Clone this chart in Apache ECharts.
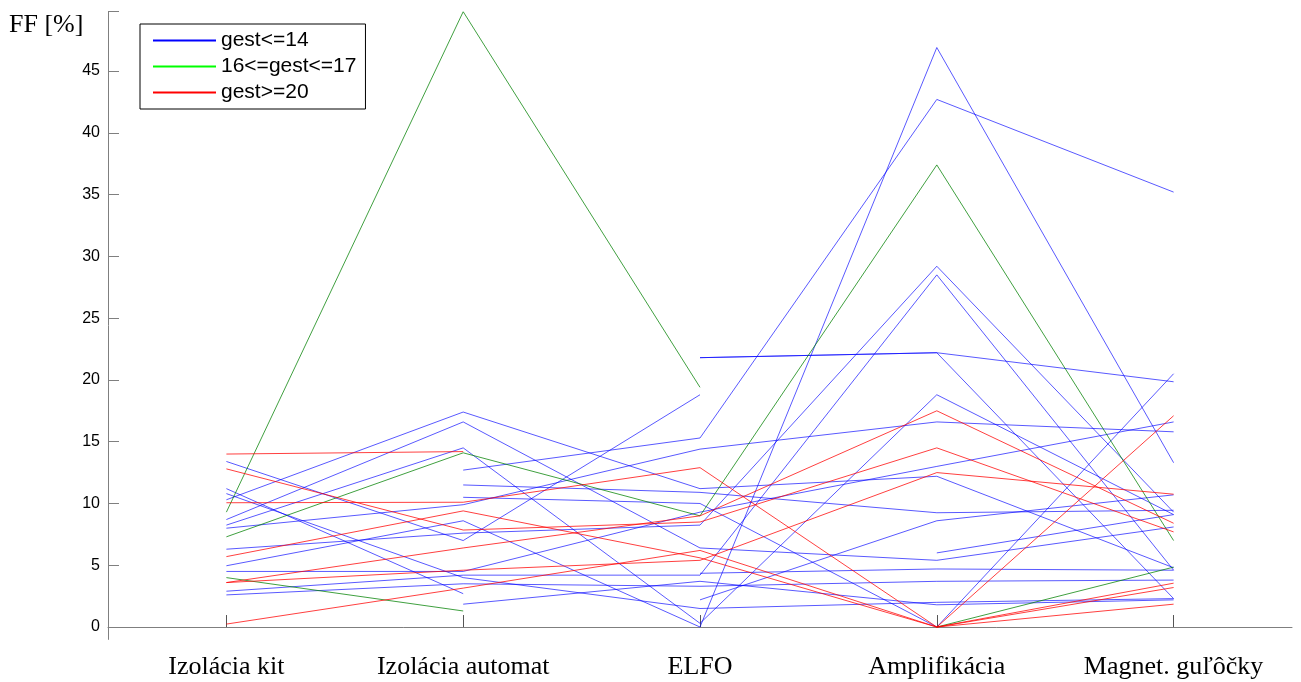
<!DOCTYPE html>
<html><head><meta charset="utf-8">
<script src="https://cdn.jsdelivr.net/npm/echarts@6/dist/echarts.min.js"></script>
<style>html,body{margin:0;padding:0;background:#fff}#c{width:1301px;height:682px}</style>
</head><body><div id="c"></div>
<script>
const categories = ['Izolácia kit', 'Izolácia automat', 'ELFO', 'Amplifikácia', 'Magnet. guľôčky'];
const yTicks = [0, 5, 10, 15, 20, 25, 30, 35, 40, 45];
const groupNames = ['gest<=14', '16<=gest<=17', 'gest>=20'];

// gest<=14
const blueLines = [
  [10.3, 17.4, 11.2, 12.2, 4.8],
  [8.7, 16.6, 6.4, 5.4, 8.1],
  [8.25, 14.5, 0.3, 18.8, 9.1],
  [null, 12.7, 15.3, 42.7, 35.2],
  [null, 11.5, 10.9, 9.25, 9.45],
  [8.0, 9.9, 14.4, 16.6, 15.8],
  [4.96, 8.6, 0, 46.9, 13.3],
  [13.4, 7.0, 18.8, null, null],
  [11.2, 2.7, null, null, null],
  [10.8, 4.0, 1.5, 2.0, 2.3],
  [2.9, 4.2, 4.2, 28.5, 4.6],
  [4.5, 4.5, 9.3, 13.0, 16.6],
  [2.6, 3.5, 3.3, 3.7, 3.8],
  [null, 1.85, 3.7, 1.8, 2.2],
  [null, null, 21.8, 22.2, 19.85],
  [null, null, 21.8, 22.2, 2.3],
  [6.3, 7.6, 8.25, 29.2, 9.3],
  [null, null, 2.2, 8.6, 10.7],
  [null, null, null, 6.0, 9.1],
  [null, 10.5, 10.0, 0, 20.5],
  [null, null, 4.35, 4.7, 4.6]
];
// 16<=gest<=17
const greenLines = [
  [9.3, 49.8, 19.4, null, null],
  [7.3, 14.1, 9.0, 37.4, 7.0],
  [4.0, 1.3, null, 0, 4.85]
];
// gest>=20
const redLines = [
  [14.0, 14.2, null, null, null],
  [10.06, 10.1, 12.9, 0, 17.1],
  [12.8, 7.85, 8.5, 14.5, 7.7],
  [5.7, 9.4, 5.6, 0, 3.2],
  [3.6, 6.4, 9.0, 17.5, 8.4],
  [0.24, 3.15, 6.2, 0, 1.85],
  [3.6, 4.6, 5.4, 12.5, 10.75],
  [null, null, null, 0, 3.55]
];

const groups = [
  {name: groupNames[0], lines: blueLines, color: 'rgba(0,0,255,0.65)', legend: '#0000ff'},
  {name: groupNames[1], lines: greenLines, color: 'rgba(0,128,0,0.75)', legend: '#00ff00'},
  {name: groupNames[2], lines: redLines, color: 'rgba(255,0,0,0.75)', legend: '#ff0000'}
];

const series = [];
groups.forEach(g => {
  g.lines.forEach(vals => {
    series.push({
      name: g.name, type: 'line', data: vals, showSymbol: false, symbol: 'none',
      connectNulls: false, silent: true,
      lineStyle: {width: 1, color: g.color}, itemStyle: {color: g.legend}
    });
  });
});

const chart = echarts.init(document.getElementById('c'), null, {renderer: 'canvas'});
chart.setOption({
  animation: false,
  backgroundColor: '#fff',
  grid: {left: 108, right: 9, top: 11.7, bottom: 42.6, containLabel: false},
  legend: {
    orient: 'vertical', left: 140, top: 24,
    data: groups.map(g => ({name: g.name, itemStyle: {color: g.legend}, lineStyle: {color: g.legend, width: 2}})),
    icon: 'rect', itemWidth: 63, itemHeight: 2, itemGap: 5,
    padding: [6, 9, 6, 13],
    borderColor: '#000', borderWidth: 1, backgroundColor: '#fff',
    textStyle: {fontFamily: 'Liberation Sans, Arial, sans-serif', fontSize: 21, color: '#000'}
  },
  xAxis: {
    type: 'category', data: categories, boundaryGap: true,
    axisLine: {lineStyle: {color: '#7f7f7f', width: 1}},
    axisTick: {show: true, inside: true, length: 12, alignWithLabel: true, lineStyle: {color: '#555'}},
    axisLabel: {fontFamily: 'Liberation Serif, Times New Roman, serif', fontSize: 26, color: '#000', margin: 15},
    splitLine: {show: false}
  },
  yAxis: {
    type: 'value', min: -1, max: 49.8,
    axisLine: {show: true, lineStyle: {color: '#7f7f7f', width: 1}},
    axisTick: {show: true, inside: true, length: 11, customValues: yTicks.concat([49.8]), lineStyle: {color: '#7f7f7f'}},
    axisLabel: {customValues: yTicks, fontFamily: 'Liberation Sans, Arial, sans-serif', fontSize: 16, color: '#000', margin: 8},
    splitLine: {show: false}
  },
  graphic: [{
    type: 'text', left: 9, top: 12,
    style: {text: 'FF [%]', font: '26px "Liberation Serif", "Times New Roman", serif', fill: '#000'}
  }],
  series: series
});
</script></body></html>
